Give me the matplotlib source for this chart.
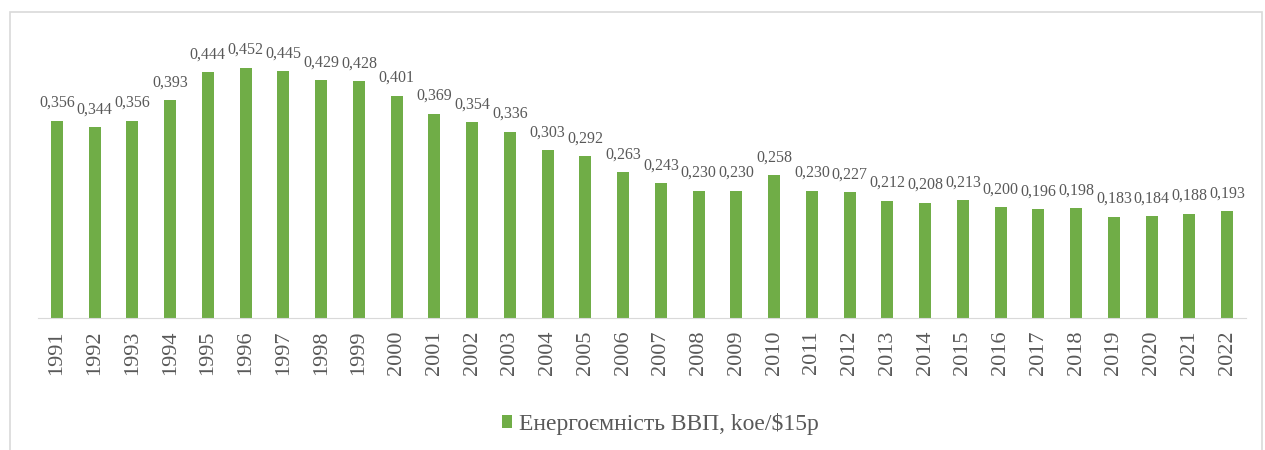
import matplotlib.pyplot as plt
from matplotlib.patches import Rectangle

# data
years = [str(y) for y in range(1991, 2023)]
values = [0.356, 0.344, 0.356, 0.393, 0.444, 0.452, 0.445, 0.429, 0.428, 0.401,
          0.369, 0.354, 0.336, 0.303, 0.292, 0.263, 0.243, 0.230, 0.230, 0.258,
          0.230, 0.227, 0.212, 0.208, 0.213, 0.200, 0.196, 0.198, 0.183, 0.184,
          0.188, 0.193]
series_name = 'Енергоємність ВВП, koe/$15р'

plt.rcParams['font.family'] = ['Liberation Serif', 'DejaVu Serif']
green = '#70AD47'
grey = '#595959'

fig = plt.figure(figsize=(12.65, 4.5), dpi=100)
# chart frame like the Excel chart area
fig.patches.append(Rectangle((10 / 1265, -0.05), 1252 / 1265, 1.05 - 12 / 450,
                             transform=fig.transFigure, fill=False,
                             edgecolor='#D9D9D9', linewidth=1.2))

ax = fig.add_axes([38 / 1265, 132 / 450, 1208 / 1265, 277 / 450])
x = range(len(years))
bars = ax.bar(x, values, width=0.32, color=green, label=series_name)

for xi, v in zip(x, values):
    ax.annotate(f'{v:.3f}'.replace('.', ','), (xi, v), xytext=(0, 7),
                textcoords='offset points', ha='center', va='bottom',
                fontsize=11.5, color=grey)

ax.set_xlim(-0.5, len(years) - 0.5)
ax.set_ylim(0, 0.5)
ax.set_xticks(list(x))
ax.set_xticklabels(years, rotation=90, fontsize=16, color=grey)
ax.tick_params(axis='x', length=0, pad=9)
ax.set_yticks([])
for side in ['top', 'right', 'left']:
    ax.spines[side].set_visible(False)
ax.spines['bottom'].set_color('#D9D9D9')

fig.legend(handles=[bars], labels=[series_name], loc='center',
           bbox_to_anchor=(0.522, 1 - 424 / 450), frameon=False, fontsize=17,
           handlelength=0.42, handleheight=0.42, handletextpad=0.3,
           labelcolor=grey)

fig.savefig('out.png', dpi=100)
